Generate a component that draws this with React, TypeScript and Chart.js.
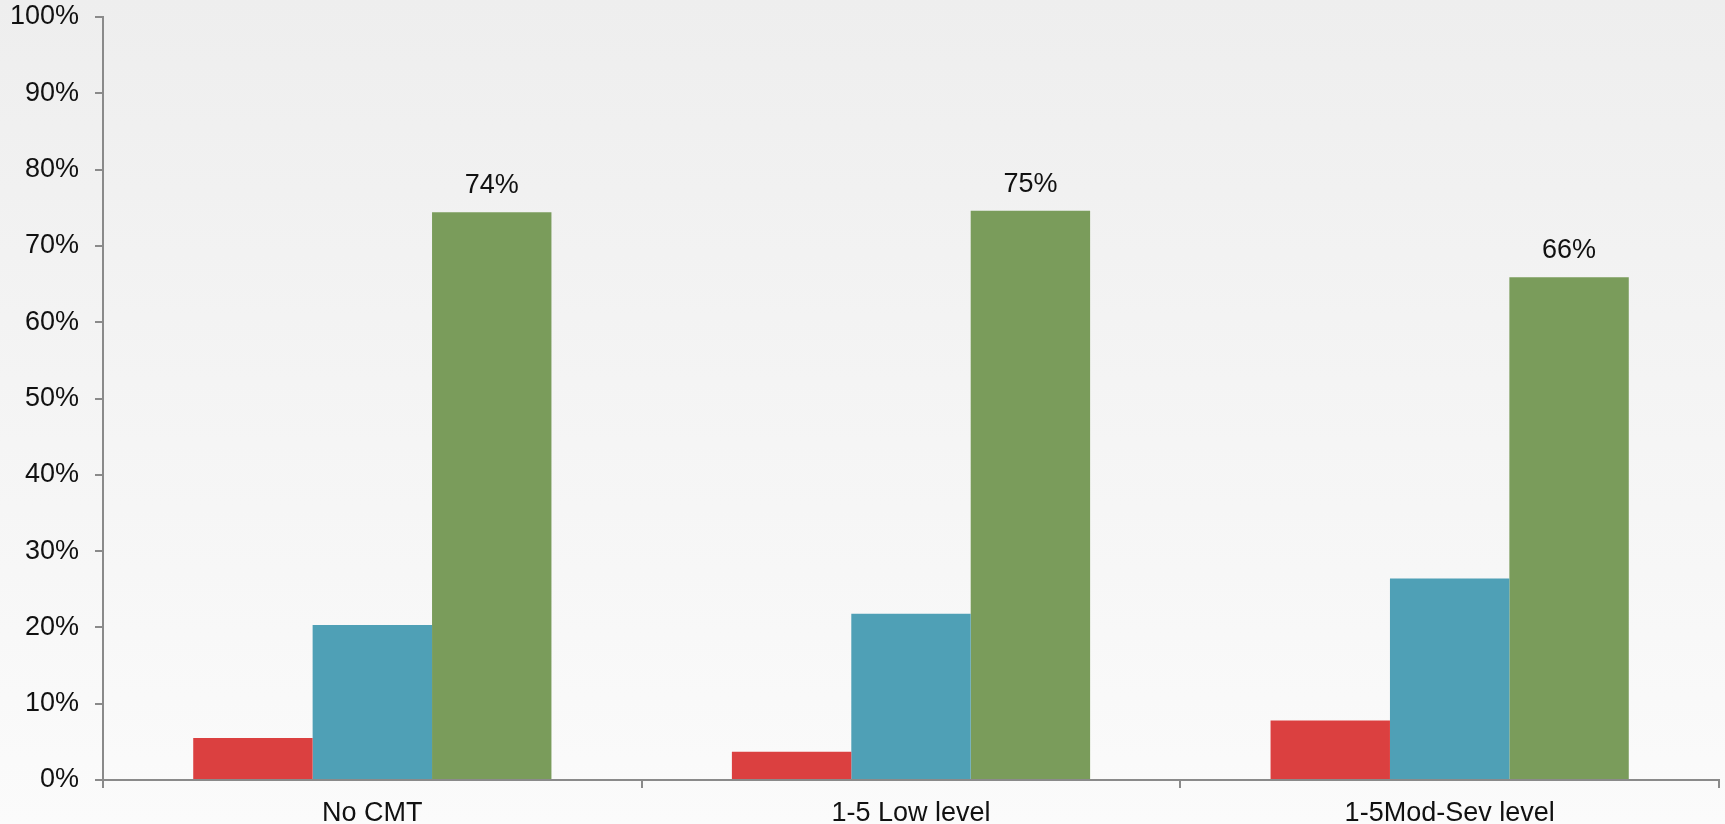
import React, { useEffect, useRef } from "react";
import { Chart, registerables } from "chart.js";

Chart.register(...registerables);

const categories = ["No CMT", "1-5 Low level", "1-5Mod-Sev level"];
const redValues = [5.5, 3.7, 7.8];
const blueValues = [20.3, 21.8, 26.4];
const greenValues = [74.4, 74.6, 65.9];
const yTicks = [0, 10, 20, 30, 40, 50, 60, 70, 80, 90, 100];

const FONT = "'Liberation Sans', Arial, sans-serif";

export default function App() {
  const ref = useRef<HTMLCanvasElement | null>(null);

  useEffect(() => {
    document.body.style.margin = "0";
    const canvas = ref.current!;
    const bgPlugin = {
      id: "bg",
      beforeDraw(chart: any) {
        const { ctx, width, height } = chart;
        const g = ctx.createLinearGradient(0, 0, 0, height);
        g.addColorStop(0, "#eeeeee");
        g.addColorStop(1, "#fbfbfb");
        ctx.save();
        ctx.fillStyle = g;
        ctx.fillRect(0, 0, width, height);
        ctx.restore();
      },
    };
    const labelPlugin = {
      id: "labels",
      afterDatasetsDraw(chart: any) {
        const ctx = chart.ctx;
        const meta = chart.getDatasetMeta(2);
        ctx.save();
        ctx.font = `27px ${FONT}`;
        ctx.fillStyle = "#111111";
        ctx.textAlign = "center";
        ctx.textBaseline = "bottom";
        meta.data.forEach((bar: any, i: number) => {
          ctx.fillText(Math.round(greenValues[i]) + "%", bar.x, bar.y - 13);
        });
        ctx.restore();
      },
    };
    const chart = new Chart(canvas, {
      type: "bar",
      data: {
        labels: categories,
        datasets: [
          { data: redValues, backgroundColor: "#db4040", borderWidth: 0 },
          { data: blueValues, backgroundColor: "#4fa0b6", borderWidth: 0 },
          { data: greenValues, backgroundColor: "#7a9c5b", borderWidth: 0 },
        ],
      },
      options: {
        animation: false,
        responsive: false,
        maintainAspectRatio: false,
        layout: { padding: { top: 17, right: 6, left: 0, bottom: 0 } },
        plugins: { legend: { display: false }, tooltip: { enabled: false } },
        datasets: { bar: { barPercentage: 1, categoryPercentage: 0.665 } },
        scales: {
          x: {
            offset: true,
            grid: { display: true, drawOnChartArea: false, offset: true, tickLength: 8, color: "#8a8a8a", lineWidth: 2 },
            border: { color: "#8a8a8a", width: 2 },
            ticks: { color: "#111111", font: { family: FONT, size: 27 }, padding: 9 },
            afterFit(scale: any) { scale.height = 44; },
          },
          y: {
            min: 0,
            max: 100,
            afterBuildTicks(scale: any) { scale.ticks = yTicks.map((v) => ({ value: v })); },
            grid: { display: true, drawOnChartArea: false, tickLength: 8, color: "#8a8a8a", lineWidth: 2 },
            border: { color: "#8a8a8a", width: 2 },
            ticks: {
              color: "#111111",
              font: { family: FONT, size: 27 },
              padding: 16,
              callback: (v: any) => v + "%",
            },
            afterFit(scale: any) {
              scale.width = 103;
              scale.paddingTop = 0;
              scale.paddingBottom = 0;
            },
          },
        },
      },
      plugins: [bgPlugin, labelPlugin],
    });
    return () => chart.destroy();
  }, []);

  return (
    <div style={{ width: 1725, height: 824 }}>
      <canvas ref={ref} width={1725} height={824} style={{ display: "block" }} />
    </div>
  );
}
